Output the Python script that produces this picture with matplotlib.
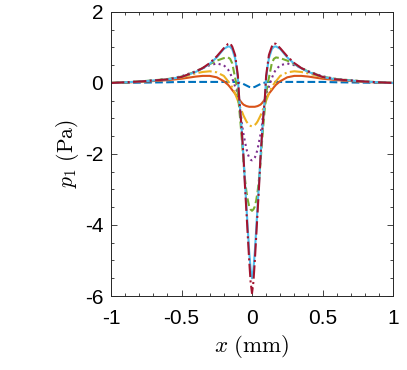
import numpy as np
import matplotlib
matplotlib.use('Agg')
import matplotlib.pyplot as plt
from matplotlib.ticker import MultipleLocator

plt.rcParams['font.family'] = ['Liberation Sans', 'DejaVu Sans']
plt.rcParams['mathtext.fontset'] = 'cm'
plt.rcParams['axes.unicode_minus'] = False

x = [-1, -0.8, -0.6, -0.5, -0.4, -0.35, -0.3, -0.25, -0.2, -0.17, -0.155, -0.14,
     -0.12, -0.11, -0.1, -0.09, -0.08, -0.07, -0.06, -0.05, -0.04, -0.03, -0.02, -0.01,
     0,
     0.01, 0.02, 0.03, 0.04, 0.05, 0.06, 0.07, 0.08, 0.09, 0.1, 0.11, 0.12,
     0.14, 0.155, 0.17, 0.2, 0.25, 0.3, 0.35, 0.4, 0.5, 0.6, 0.8, 1]

p_blue = [0.0, 0.01, 0.02, 0.03, 0.03, 0.03, 0.03, 0.03, 0.03, 0.03, 0.03, 0.03,
          0.03, 0.03, 0.02, 0.01, 0.0, -0.01, -0.03, -0.05, -0.07, -0.09, -0.11, -0.12,
          -0.13,
          -0.12, -0.11, -0.09, -0.07, -0.05, -0.03, -0.01, 0.0, 0.01, 0.02, 0.03, 0.03,
          0.03, 0.03, 0.03, 0.03, 0.03, 0.03, 0.03, 0.03, 0.03, 0.02, 0.01, 0.0]
p_orange = [0.0, 0.03, 0.08, 0.12, 0.18, 0.2, 0.2, 0.16, 0.05, -0.05, -0.12, -0.2,
            -0.3, -0.36, -0.42, -0.47, -0.52, -0.57, -0.61, -0.63, -0.65, -0.66, -0.67, -0.67,
            -0.67,
            -0.67, -0.67, -0.66, -0.65, -0.63, -0.61, -0.57, -0.52, -0.47, -0.42, -0.36, -0.3,
            -0.2, -0.12, -0.05, 0.05, 0.16, 0.2, 0.2, 0.18, 0.12, 0.08, 0.03, 0.0]
p_yellow = [0.0, 0.04, 0.1, 0.16, 0.27, 0.31, 0.33, 0.3, 0.2, 0.05, -0.03, -0.12,
            -0.3, -0.4, -0.5, -0.62, -0.72, -0.82, -0.92, -1.0, -1.08, -1.14, -1.18, -1.21,
            -1.22,
            -1.21, -1.18, -1.14, -1.08, -1.0, -0.92, -0.82, -0.72, -0.62, -0.5, -0.4, -0.3,
            -0.12, -0.03, 0.05, 0.2, 0.3, 0.33, 0.31, 0.27, 0.16, 0.1, 0.04, 0.0]
p_purple = [0.0, 0.04, 0.11, 0.19, 0.33, 0.42, 0.5, 0.55, 0.5, 0.38, 0.28, 0.13,
            -0.1, -0.2, -0.3, -0.55, -0.85, -1.2, -1.45, -1.65, -1.85, -2.0, -2.1, -2.16,
            -2.18,
            -2.16, -2.1, -2.0, -1.85, -1.65, -1.45, -1.2, -0.85, -0.55, -0.3, -0.2, -0.1,
            0.13, 0.28, 0.38, 0.5, 0.55, 0.5, 0.42, 0.33, 0.19, 0.11, 0.04, 0.0]
p_green = [0.0, 0.04, 0.11, 0.18, 0.32, 0.42, 0.53, 0.63, 0.7, 0.72, 0.68, 0.55,
           0.15, -0.05, -0.3, -0.75, -1.2, -1.7, -2.25, -2.7, -3.05, -3.3, -3.48, -3.56,
           -3.6,
           -3.56, -3.48, -3.3, -3.05, -2.7, -2.25, -1.7, -1.2, -0.75, -0.3, -0.05, 0.15,
           0.55, 0.68, 0.72, 0.7, 0.63, 0.53, 0.42, 0.32, 0.18, 0.11, 0.04, 0.0]
p_cyan = [0.0, 0.04, 0.1, 0.17, 0.31, 0.41, 0.54, 0.72, 0.96, 1.03, 1.02, 0.95,
          0.7, 0.45, 0.12, -0.5, -0.95, -1.5, -2.1, -2.8, -3.45, -4.1, -4.75, -5.25,
          -5.5,
          -5.25, -4.75, -4.1, -3.45, -2.8, -2.1, -1.5, -0.95, -0.5, 0.12, 0.45, 0.7,
          0.95, 1.02, 1.03, 0.96, 0.72, 0.54, 0.41, 0.31, 0.17, 0.1, 0.04, 0.0]
p_red = [0.0, 0.04, 0.1, 0.17, 0.32, 0.42, 0.56, 0.75, 0.98, 1.1, 1.12, 1.02,
         0.79, 0.5, 0.2, -0.5, -0.95, -1.5, -2.1, -2.9, -3.6, -4.3, -5.0, -5.6,
         -5.92,
         -5.6, -5.0, -4.3, -3.6, -2.9, -2.1, -1.5, -0.95, -0.5, 0.2, 0.5, 0.79,
         1.02, 1.12, 1.1, 0.98, 0.75, 0.56, 0.42, 0.32, 0.17, 0.1, 0.04, 0.0]

series = [p_blue, p_orange, p_yellow, p_purple, p_green, p_cyan, p_red]
colors = ['#0072BD', '#D95319', '#EDB120', '#7E2F8E', '#77AC30', '#4DBEEE', '#A2142F']
styles = ['--', '-', '-.', ':', '--', '-', '-.']

fig = plt.figure(figsize=(4.07, 3.70), dpi=100)
ax = fig.add_axes([0.2727, 0.2, 0.693, 0.7676])

for p, c, ls in zip(series, colors, styles):
    ax.plot(x, p, ls, color=c, lw=1.5)

ax.set_xlim(-1, 1)
ax.set_ylim(-6, 2)
ax.set_xticks([-1, -0.5, 0, 0.5, 1])
ax.set_xticklabels(['-1', '-0.5', '0', '0.5', '1'])
ax.set_yticks([-6, -4, -2, 0, 2])
ax.xaxis.set_minor_locator(MultipleLocator(0.1))
ax.yaxis.set_minor_locator(MultipleLocator(0.5))
ax.tick_params(which='both', direction='in', top=True, right=True,
               labelsize=15, color='#262626', width=0.6)
ax.tick_params(which='major', length=4)
ax.tick_params(which='minor', length=2.5)
ax.tick_params(axis='x', pad=9)
ax.tick_params(axis='y', pad=5.5)
for s in ax.spines.values():
    s.set_color('#262626')
    s.set_linewidth(0.7)

ax.set_xlabel(r'$x\ \mathrm{(mm)}$', fontsize=16.5, labelpad=4)
ax.set_ylabel(r'$p_1\ \mathrm{(Pa)}$', fontsize=15.5, labelpad=3)

fig.savefig('out.png', dpi=100)
